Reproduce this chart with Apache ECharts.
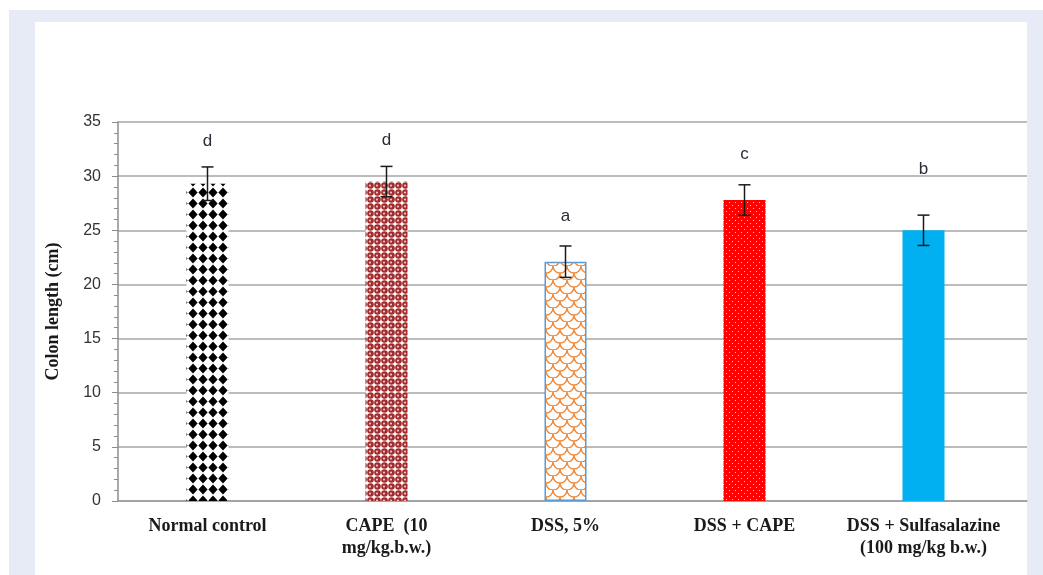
<!DOCTYPE html>
<html>
<head>
<meta charset="utf-8">
<script src="https://cdn.jsdelivr.net/npm/echarts@6/dist/echarts.min.js"></script>
<style>
  html, body { margin: 0; padding: 0; background: #ffffff; }
  #frame { position: absolute; left: 9px; top: 10px; width: 1034px; height: 565px; background: #e7ebf5; }
  #chart { position: absolute; left: 0; top: 0; width: 1043px; height: 575px; }
</style>
</head>
<body>
<div id="frame"><div style="position:absolute;left:26px;top:12px;width:992px;height:553px;background:#ffffff;"></div></div>
<div id="chart"></div>
<script>
// Colon length per treatment group (mean ± SD) with significance letters
const categories = ['Normal control', 'CAPE  (10\nmg/kg.b.w.)', 'DSS, 5%', 'DSS + CAPE', 'DSS + Sulfasalazine\n(100 mg/kg b.w.)'];
const colonLength = [29.3, 29.5, 22.1, 27.8, 25.0];
const errorSD = [1.55, 1.4, 1.45, 1.4, 1.4];
const sigLetters = ['d', 'd', 'a', 'c', 'b'];
const yTicks = [0, 5, 10, 15, 20, 25, 30, 35];

const BAR_WIDTH = 42;

// ---- fill patterns ----
function tile(w, h, draw) {
  const c = document.createElement('canvas');
  c.width = w; c.height = h;
  const g = c.getContext('2d');
  draw(g, w, h);
  return c;
}
const diamondTile = tile(10, 11, (g, w, h) => {
  g.fillStyle = '#ffffff'; g.fillRect(0, 0, w, h);
  g.fillStyle = '#000000';
  g.beginPath();
  g.moveTo(5, 0.6); g.lineTo(9.6, 5.5); g.lineTo(5, 10.4); g.lineTo(0.4, 5.5);
  g.closePath(); g.fill();
});
const sphereTile = tile(7, 7, (g, w, h) => {
  g.fillStyle = '#ffffff'; g.fillRect(0, 0, w, h);
  g.fillStyle = '#a32b2b';
  g.beginPath(); g.arc(3.5, 3.5, 3.3, 0, Math.PI * 2); g.fill();
  g.fillStyle = '#e8c9c9';
  g.beginPath(); g.arc(3.0, 3.6, 1.1, 0, Math.PI * 2); g.fill();
});
// fish-scale motif: lower half-circles on a staggered lattice
const scaleTile = tile(14, 14, (g, w, h) => {
  g.fillStyle = '#ffffff'; g.fillRect(0, 0, w, h);
  g.strokeStyle = '#ef8a3a'; g.lineWidth = 1.3;
  [[0, 0], [14, 0], [7, 7]].forEach(([cx, cy]) => {
    g.beginPath(); g.arc(cx, cy, 7, 0, Math.PI); g.stroke();
  });
});
const dotTile = tile(6, 6, (g, w, h) => {
  g.fillStyle = '#ff0000'; g.fillRect(0, 0, w, h);
  g.fillStyle = '#ffc8c8';
  g.fillRect(1, 1, 1, 1); g.fillRect(4, 4, 1, 1);
});

// patterns are anchored to each bar's left edge so the motif sits evenly inside it
function barStyles(leftEdges) {
  const pat = (img, i) => ({ image: img, repeat: 'repeat', x: leftEdges[i], y: 0 });
  return [
    { color: pat(diamondTile, 0) },
    { color: pat(sphereTile, 1) },
    { color: pat(scaleTile, 2), borderColor: '#5b9bd5', borderWidth: 1.5 },
    { color: pat(dotTile, 3) },
    { color: '#00b0f0' }
  ];
}
// vertical gap (px) between each error cap and its letter
const letterGap = [26, 26, 30, 30, 46];

const chart = echarts.init(document.getElementById('chart'));
const option = {
  animation: false,
  grid: [
    { left: 118, right: 16, top: 122, bottom: 74 },
    { left: 118, right: 30, top: 122, bottom: 74 }
  ],
  xAxis: [
    {
      gridIndex: 0, type: 'value', min: 0, max: 1,
      axisLine: { show: true, lineStyle: { color: '#9a9a9a', width: 1.5 } },
      axisTick: { show: false }, axisLabel: { show: false }, splitLine: { show: false }
    },
    {
      gridIndex: 1, type: 'category', data: categories,
      axisLine: { show: false }, axisTick: { show: false },
      axisLabel: {
        margin: 14, interval: 0,
        fontFamily: 'Liberation Serif', fontWeight: 'bold', fontSize: 18,
        lineHeight: 22, color: '#1a1a1a'
      }
    }
  ],
  yAxis: [
    {
      gridIndex: 0, type: 'value', min: 0, max: 35, interval: 5,
      name: 'Colon length (cm)', nameLocation: 'middle', nameGap: 56,
      nameTextStyle: { fontFamily: 'Liberation Serif', fontWeight: 'bold', fontSize: 18, color: '#1a1a1a' },
      axisLine: { show: true, lineStyle: { color: '#8c8c8c', width: 1.5 } },
      axisTick: { show: true, inside: false, length: 6, lineStyle: { color: '#8c8c8c' } },
      minorTick: { show: true, splitNumber: 5, length: 4, lineStyle: { color: '#8c8c8c' } },
      axisLabel: {
        margin: 17, fontFamily: 'Liberation Sans', fontSize: 16, color: '#333333',
        formatter: v => yTicks.includes(v) ? String(v) : ''
      },
      splitLine: { show: true, lineStyle: { color: '#a6a6a6', width: 1.5 } }
    },
    { gridIndex: 1, type: 'value', min: 0, max: 35, show: false }
  ],
  series: [
    {
      type: 'bar', xAxisIndex: 1, yAxisIndex: 1, barWidth: BAR_WIDTH,
      data: colonLength.map(v => ({ value: v }))
    },
    {
      type: 'custom', xAxisIndex: 1, yAxisIndex: 1,
      data: colonLength.map((v, i) => [i, v - errorSD[i], v + errorSD[i]]),
      renderItem: (params, api) => {
        const i = api.value(0);
        const lo = api.coord([i, api.value(1)]);
        const hi = api.coord([i, api.value(2)]);
        const cap = 6;
        const st = { stroke: '#1a1a1a', lineWidth: 1.5 };
        return {
          type: 'group',
          children: [
            { type: 'line', shape: { x1: hi[0], y1: hi[1], x2: lo[0], y2: lo[1] }, style: st },
            { type: 'line', shape: { x1: hi[0] - cap, y1: hi[1], x2: hi[0] + cap, y2: hi[1] }, style: st },
            { type: 'line', shape: { x1: lo[0] - cap, y1: lo[1], x2: lo[0] + cap, y2: lo[1] }, style: st },
            {
              type: 'text',
              style: {
                text: sigLetters[i], x: hi[0], y: hi[1] - letterGap[i],
                align: 'center', verticalAlign: 'middle',
                font: '17px "Liberation Sans"', fill: '#2b2b3a'
              }
            }
          ]
        };
      },
      z: 5
    }
  ]
};
chart.setOption(option);

// place fills once the category positions are known
const leftEdges = categories.map((c, i) =>
  Math.round(chart.convertToPixel({ xAxisIndex: 1 }, i) - BAR_WIDTH / 2) + 1);
const styles = barStyles(leftEdges);
chart.setOption({
  series: [{ data: colonLength.map((v, i) => ({ value: v, itemStyle: styles[i] })) }]
});
</script>
</body>
</html>
